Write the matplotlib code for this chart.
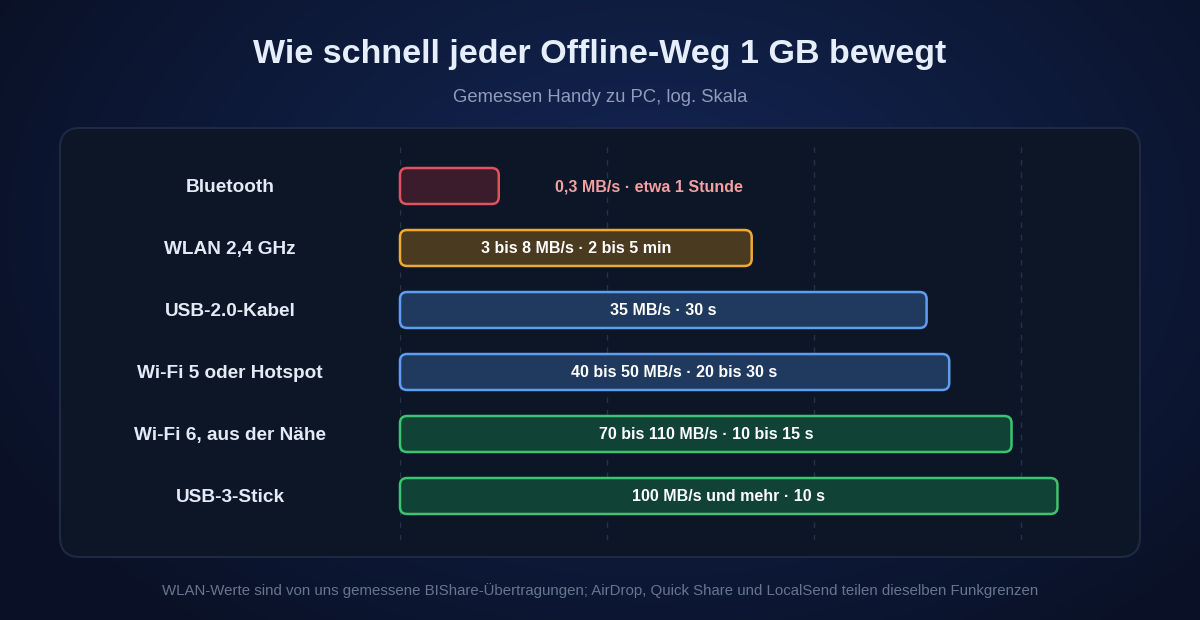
import numpy as np
import matplotlib.pyplot as plt
from matplotlib.patches import FancyBboxPatch
from matplotlib.transforms import IdentityTransform

plt.rcParams['font.family'] = ['Liberation Sans', 'DejaVu Sans']

# data
categories = ["Bluetooth", "WLAN 2,4 GHz", "USB-2.0-Kabel", "Wi-Fi 5 oder Hotspot",
              "Wi-Fi 6, aus der Nähe", "USB-3-Stick"]
speeds = [0.3, 5, 35, 45, 90, 150]  # MB/s, log scale
bar_labels = ["0,3 MB/s · etwa 1 Stunde", "3 bis 8 MB/s · 2 bis 5 min", "35 MB/s · 30 s",
              "40 bis 50 MB/s · 20 bis 30 s", "70 bis 110 MB/s · 10 bis 15 s",
              "100 MB/s und mehr · 10 s"]
grid_ticks = [0.1, 1, 10, 100]

fills = ["#3a1c2c", "#4a3a1f", "#1f3a5e", "#1f3a5e", "#104236", "#104236"]
edges = ["#e0525c", "#f0aa30", "#5e9ef0", "#5e9ef0", "#3cc46e", "#3cc46e"]

W, H = 1200, 620
fig = plt.figure(figsize=(W / 100, H / 100), dpi=100)

# background gradient
bg = fig.add_axes([0, 0, 1, 1])
yy, xx = np.mgrid[0:H, 0:W]
r = np.sqrt(((xx - 650) / 750.0) ** 2 + ((yy - 230) / 520.0) ** 2)
r = np.clip(r, 0, 1)
c_in = np.array([0x13, 0x26, 0x55]) / 255
c_out = np.array([0x0a, 0x11, 0x26]) / 255
img = c_in[None, None, :] * (1 - r[..., None]) + c_out[None, None, :] * r[..., None]
bg.imshow(img, extent=[0, W, H, 0], aspect='auto')
bg.set_xlim(0, W)
bg.set_ylim(H, 0)
bg.axis('off')

# panel
panel = FancyBboxPatch((60, 128), 1080, 429, boxstyle="round,pad=0,rounding_size=20",
                       facecolor="#0c1627", edgecolor="#1e2a44", linewidth=1.5)
bg.add_patch(panel)

bg.text(600, 54, "Wie schnell jeder Offline-Weg 1 GB bewegt", ha='center', va='center',
        fontsize=24.5, fontweight='bold', color="#e6eefb")
bg.text(600, 98, "Gemessen Handy zu PC, log. Skala", ha='center', va='center',
        fontsize=13.3, color="#8e9dbb")
bg.text(600, 591, "WLAN-Werte sind von uns gemessene BIShare-Übertragungen; AirDrop, Quick Share "
        "und LocalSend teilen dieselben Funkgrenzen", ha='center', va='center',
        fontsize=10.8, color="#67758f")

# chart axes
x0, x1 = 400, 1100
top, bot = 145, 540
ax = fig.add_axes([x0 / W, 1 - bot / H, (x1 - x0) / W, (bot - top) / H])
ax.set_xscale('log')
dec = (x1 - x0) / 207.0
ax.set_xlim(0.1, 0.1 * 10 ** dec)
ax.set_ylim((bot - 186) / 62.0, (top - 186) / 62.0)
ax.patch.set_alpha(0)
for s in ax.spines.values():
    s.set_visible(False)
ax.set_xticks([])
ax.set_yticks([])
ax.minorticks_off()

for t in grid_ticks:
    ax.axvline(t, color="#27324a", lw=1, ls=(0, (4, 5)), zorder=0)

bar_h = 0.58
to_disp = ax.transData
for i, (cat, v) in enumerate(zip(categories, speeds)):
    (px0, py0) = to_disp.transform((0.1, i + bar_h / 2))
    (px1, py1) = to_disp.transform((v, i - bar_h / 2))
    box = FancyBboxPatch((px0, py0), px1 - px0, py1 - py0,
                         boxstyle="round,pad=0,rounding_size=7",
                         facecolor=fills[i], edgecolor=edges[i], linewidth=1.8,
                         transform=IdentityTransform(), zorder=3, clip_on=False)
    ax.add_patch(box)
    if i == 0:
        ax.annotate(bar_labels[i], (v, i), xytext=(56, -1), textcoords='offset pixels',
                    ha='left', va='center', fontsize=11.5, fontweight='bold',
                    color="#f2a0a2", zorder=4)
    else:
        xm = np.sqrt(0.1 * v)
        ax.annotate(bar_labels[i], (xm, i), xytext=(0, -1), textcoords='offset pixels',
                    ha='center', va='center', fontsize=11.5,
                    fontweight='bold', color="#ffffff", zorder=4)
    fig.text(230 / W, (to_disp.transform((1, i))[1] - 2) / H, cat, ha='center', va='center',
             fontsize=13.7, fontweight='bold', color="#e4ebf7")

fig.savefig("out.png", dpi=100)
